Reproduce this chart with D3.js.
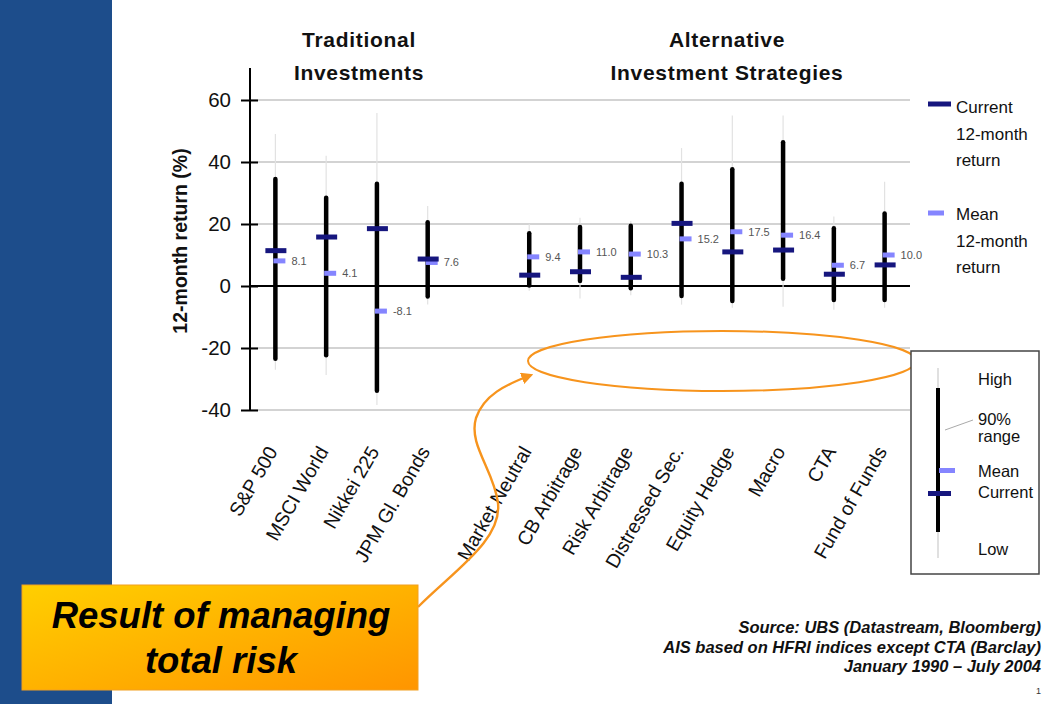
<!DOCTYPE html>
<html>
<head>
<meta charset="utf-8">
<script src="https://cdn.jsdelivr.net/npm/d3@7"></script>
<style>
  html, body { margin: 0; padding: 0; background: #fff; overflow: hidden; }
  svg { display: block; font-family: "Liberation Sans", Arial, sans-serif; }
</style>
</head>
<body>
<svg id="chart" width="1043" height="704"></svg>
<script>
// ---------- data ----------
const traditional = ["S&P 500", "MSCI World", "Nikkei 225", "JPM Gl. Bonds"];
const alternative = ["Market Neutral", "CB Arbitrage", "Risk Arbitrage", "Distressed Sec.",
                     "Equity Hedge", "Macro", "CTA", "Fund of Funds"];
const categories = [...traditional, ...alternative];
// full historical range (faint line)
const highs = [49, 42, 55.8, 25.8, 20, 22, 21, 44.5, 55, 55, 22.4, 33.6];
const lows  = [-27, -28.7, -38.4, -6, -1.5, -4, -3, -6, -7, -6.7, -7.7, -7];
// 90% range (black bar)
const range90Top    = [34.5, 28.5, 33, 20.6, 17, 19, 19.4, 33, 37.7, 46.4, 18.6, 23.4];
const range90Bottom = [-23.5, -22.3, -33.8, -3.4, 0.2, 1.6, -0.7, -3.2, -4.8, 2.3, -4.5, -4.5];
// current and mean 12-month returns
const current = [11.4, 15.8, 18.5, 8.7, 3.5, 4.6, 2.8, 20.2, 11, 11.6, 3.8, 6.8];
const mean    = [8.1, 4.1, -8.1, 7.6, 9.4, 11.0, 10.3, 15.2, 17.5, 16.4, 6.7, 10.0];
const yTicks = [-40, -20, 0, 20, 40, 60];
const groupTitles = [["Traditional", "Investments"], ["Alternative", "Investment Strategies"]];

const rows = categories.map((c, i) => ({
  cat: c, high: highs[i], low: lows[i], top: range90Top[i], bottom: range90Bottom[i],
  current: current[i], mean: mean[i]
}));

// ---------- layout ----------
const svg = d3.select("#chart");
const NAVY = "#16167e", MEANC = "#8585ff";

// left blue band
svg.append("rect").attr("x", 0).attr("y", 0).attr("width", 112).attr("height", 704).attr("fill", "#1d4d8b");

const slots = [...traditional, "__gap__", ...alternative];
const x = d3.scaleBand().domain(slots).range([250, 910]).paddingInner(0).paddingOuter(0);
const cx = c => x(c) + x.bandwidth() / 2;
const y = d3.scaleLinear().domain([-40, 60]).range([410, 100]);

// gridlines
const g = svg.append("g");
g.selectAll("line.grid").data(yTicks.filter(t => t !== 0)).join("line")
  .attr("x1", 250).attr("x2", 910).attr("y1", d => y(d)).attr("y2", d => y(d))
  .attr("stroke", "#c4c4c4").attr("stroke-width", 1.5);

// y axis
const yAxis = d3.axisLeft(y).tickValues(yTicks).tickSize(9).tickPadding(10).tickFormat(d => String(d));
const ya = svg.append("g").attr("transform", "translate(250,0)").call(yAxis);
ya.select(".domain").remove();
ya.selectAll(".tick line").attr("x1", -9).attr("x2", 8).attr("stroke", "#000").attr("stroke-width", 2);
ya.selectAll(".tick text").attr("font-size", 20.5).attr("fill", "#111")
  .attr("font-family", "'Liberation Sans', Arial, sans-serif").attr("x", -19);
svg.append("line").attr("x1", 250).attr("x2", 250).attr("y1", 68).attr("y2", y(-40))
  .attr("stroke", "#000").attr("stroke-width", 2);
// zero line
svg.append("line").attr("x1", 250).attr("x2", 910).attr("y1", y(0)).attr("y2", y(0))
  .attr("stroke", "#000").attr("stroke-width", 2);

// y title
svg.append("text").attr("transform", `translate(187,${241}) rotate(-90)`)
  .attr("text-anchor", "middle").attr("font-size", 19.5).attr("font-weight", "bold").attr("fill", "#111")
  .text("12-month return (%)");

// group titles
const titleX = [359, 727];
groupTitles.forEach((lines, i) => {
  lines.forEach((t, j) => {
    svg.append("text").attr("x", titleX[i]).attr("y", 47 + j * 33).attr("text-anchor", "middle")
      .attr("font-size", 21).attr("font-weight", "bold").attr("letter-spacing", 0.7).attr("fill", "#111").text(t);
  });
});

// faint full range
svg.selectAll("line.full").data(rows).join("line")
  .attr("x1", d => cx(d.cat)).attr("x2", d => cx(d.cat))
  .attr("y1", d => y(d.high)).attr("y2", d => y(d.low))
  .attr("stroke", "#e2e2e2").attr("stroke-width", 1.2);
// 90% range bars
svg.selectAll("line.r90").data(rows).join("line")
  .attr("x1", d => cx(d.cat)).attr("x2", d => cx(d.cat))
  .attr("y1", d => y(d.top)).attr("y2", d => y(d.bottom))
  .attr("stroke", "#000").attr("stroke-width", 4.5).attr("stroke-linecap", "round");
// mean markers
svg.selectAll("rect.mean").data(rows).join("rect")
  .attr("x", d => cx(d.cat) - 2).attr("y", d => y(d.mean) - 2.5)
  .attr("width", 12).attr("height", 5).attr("fill", MEANC);
// current markers
svg.selectAll("rect.cur").data(rows).join("rect")
  .attr("x", d => cx(d.cat) - 10).attr("y", d => y(d.current) - 2.5)
  .attr("width", 21).attr("height", 5).attr("fill", NAVY);
// mean labels
svg.selectAll("text.ml").data(rows).join("text")
  .attr("x", d => cx(d.cat) + 16).attr("y", d => y(d.mean) + 4)
  .attr("font-size", 11).attr("fill", "#555").text(d => d.mean.toFixed(1));

// x labels
svg.selectAll("text.xl").data(rows).join("text")
  .attr("transform", d => `translate(${cx(d.cat) - 3},${448}) rotate(-60)`)
  .attr("text-anchor", "end").attr("dy", "0.35em")
  .attr("font-size", 19.5).attr("fill", "#111").text(d => d.cat);

// top-right legend
const legTop = [{c: NAVY, y: 104, w: 23, lines: ["Current", "12-month", "return"], ty: 113},
                {c: MEANC, y: 213, w: 16, lines: ["Mean", "12-month", "return"], ty: 220}];
legTop.forEach(l => {
  svg.append("rect").attr("x", 928).attr("y", l.y - 2.5).attr("width", l.w).attr("height", 5).attr("fill", l.c);
  l.lines.forEach((t, j) => svg.append("text").attr("x", 956).attr("y", l.ty + j * 26.5)
    .attr("font-size", 17).attr("fill", "#111").text(t));
});

// ellipse annotation
svg.append("ellipse").attr("cx", 722).attr("cy", 361).attr("rx", 194).attr("ry", 30)
  .attr("fill", "none").attr("stroke", "#f7941d").attr("stroke-width", 2);
const defs = svg.append("defs");
defs.append("marker").attr("id", "arr").attr("viewBox", "0 0 10 10").attr("refX", 8).attr("refY", 5)
  .attr("markerWidth", 5).attr("markerHeight", 5).attr("orient", "auto")
  .append("path").attr("d", "M0,0 L10,5 L0,10 z").attr("fill", "#f7941d");
svg.append("path").attr("d", "M418,607 C455,570 502,540 498,503 C494,470 468,445 476,418 C484,395 505,385 531,375")
  .attr("fill", "none").attr("stroke", "#f7941d").attr("stroke-width", 2.4).attr("marker-end", "url(#arr)");

// range legend box
const lb = svg.append("g");
lb.append("rect").attr("x", 911).attr("y", 351).attr("width", 128).attr("height", 223)
  .attr("fill", "#fff").attr("stroke", "#444").attr("stroke-width", 1.5);
lb.append("line").attr("x1", 938).attr("x2", 938).attr("y1", 368).attr("y2", 558).attr("stroke", "#d6d6d6").attr("stroke-width", 1.5);
lb.append("line").attr("x1", 938).attr("x2", 938).attr("y1", 388).attr("y2", 532).attr("stroke", "#000").attr("stroke-width", 4);
lb.append("rect").attr("x", 939).attr("y", 468).attr("width", 16).attr("height", 5).attr("fill", MEANC);
lb.append("rect").attr("x", 928).attr("y", 491).attr("width", 23).attr("height", 5).attr("fill", NAVY);
lb.append("line").attr("x1", 945).attr("y1", 430).attr("x2", 973).attr("y2", 420).attr("stroke", "#aaa").attr("stroke-width", 1);
[["High", 385], ["90%", 425], ["range", 442], ["Mean", 477], ["Current", 498], ["Low", 555]].forEach(([t, yy]) =>
  lb.append("text").attr("x", 978).attr("y", yy).attr("font-size", 16.5).attr("fill", "#111").text(t));

// orange callout box
const grad = defs.append("linearGradient").attr("id", "og").attr("x1", "0").attr("y1", "0").attr("x2", "1").attr("y2", "1");
grad.append("stop").attr("offset", "0%").attr("stop-color", "#ffcf00");
grad.append("stop").attr("offset", "100%").attr("stop-color", "#ff9500");
svg.append("rect").attr("x", 22).attr("y", 585).attr("width", 396).attr("height", 105)
  .attr("fill", "url(#og)").attr("stroke", "#f2a020").attr("stroke-width", 1);
[["Result of managing", 628], ["total risk", 673]].forEach(([t, yy]) =>
  svg.append("text").attr("x", 221).attr("y", yy).attr("text-anchor", "middle")
    .attr("font-size", 36.5).attr("font-weight", "bold").attr("font-style", "italic").attr("fill", "#000").text(t));

// source
[["Source: UBS (Datastream, Bloomberg)", 633], ["AIS based on HFRI indices except CTA (Barclay)", 653],
 ["January 1990 – July 2004", 672]].forEach(([t, yy]) =>
  svg.append("text").attr("x", 1041).attr("y", yy).attr("text-anchor", "end")
    .attr("font-size", 16.5).attr("font-weight", "bold").attr("font-style", "italic").attr("fill", "#111").text(t));
svg.append("text").attr("x", 1036).attr("y", 694).attr("font-size", 9).attr("fill", "#333").text("1");
</script>
</body>
</html>
